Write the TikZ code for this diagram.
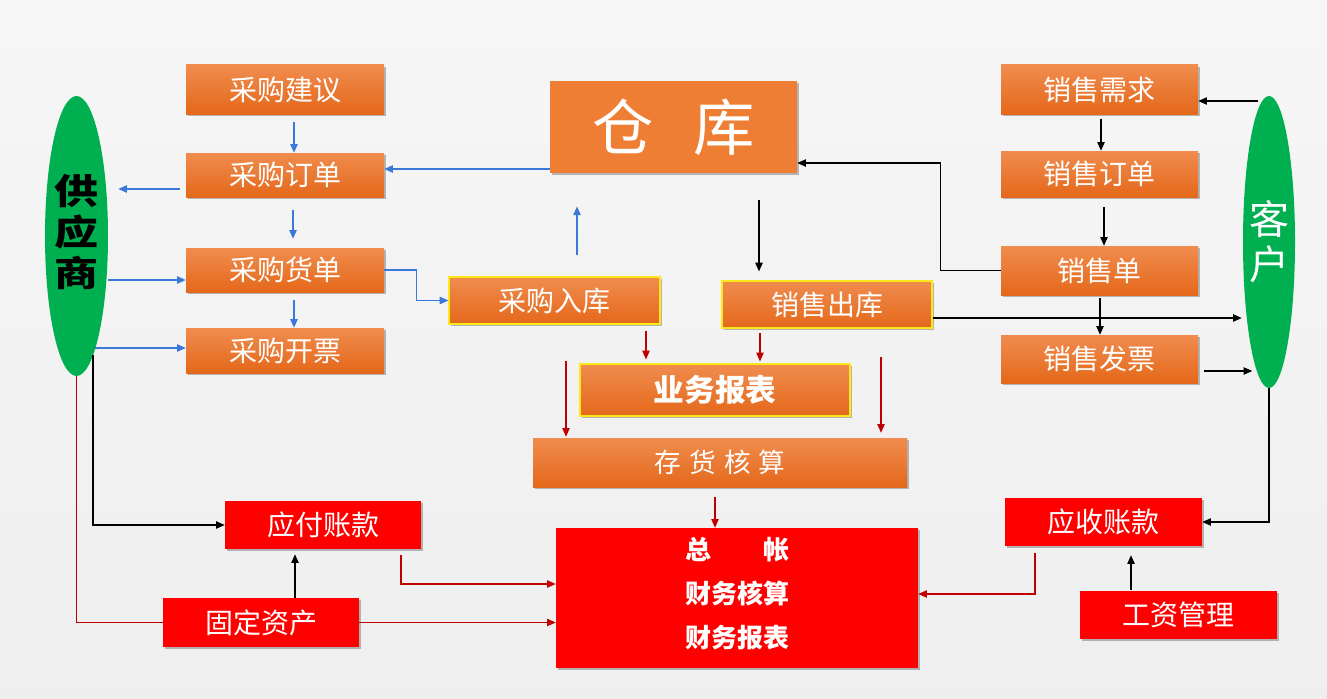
\documentclass[tikz,border=0pt]{standalone}
\usepackage{fontspec}
\setmainfont{Noto Sans CJK SC}
\usetikzlibrary{shapes.geometric,arrows.meta,calc,shadows}
\definecolor{bgc}{HTML}{EEEEEE}
\definecolor{orT}{HTML}{F08C4E}
\definecolor{orB}{HTML}{E4681A}
\definecolor{orF}{HTML}{ED7E34}
\definecolor{redbox}{HTML}{FF0000}
\definecolor{grn}{HTML}{00B050}
\definecolor{bl}{HTML}{3A78DA}
\definecolor{rl}{HTML}{C00000}
\definecolor{ylw}{HTML}{FFE81A}
\tikzset{
  base/.style={inner sep=0pt, text=white, font=\fontsize{21}{25}\selectfont,
    drop shadow={shadow xshift=1.2pt, shadow yshift=-1.8pt, opacity=0.45, fill=black!60}},
  obox/.style={base, top color=orT, bottom color=orB},
  ybox/.style={obox, draw=ylw, line width=0.9pt},
  rbox/.style={base, fill=redbox},
  oval/.style={ellipse, fill=grn, inner sep=0pt},
  tip/.style={-{Triangle[length=6.5pt,width=5.5pt]}},
  barr/.style={draw=bl, line width=1pt, tip},
  karr/.style={draw=black, line width=0.9pt, tip},
  rarr/.style={draw=rl, line width=0.8pt, tip},
  rline/.style={draw=rl, line width=0.8pt},
}
\begin{document}
\begin{tikzpicture}[x=0.75pt,y=-0.75pt]
\useasboundingbox (0,0) rectangle (1327,699);
\shade[top color=gray!7, bottom color=gray!13] (0,0) rectangle (1327,699);

% ellipses
\node[oval, minimum width=47.25pt, minimum height=210pt] (gys) at (76.5,236) {};
\node[font=\fontsize{33}{33}\selectfont\bfseries, text=black, inner sep=0pt] (gyst) at (76.5,236)
  {\scalebox{1}[0.8]{\begin{tabular}{@{}c@{}}供\\应\\商\end{tabular}}};
\node[oval, minimum width=39pt, minimum height=219pt] (kh) at (1269,242) {};
\node[font=\fontsize{30}{34}\selectfont, text=white, align=center, inner sep=0pt] (kht) at (1269,242) {客\\户};

% purchase column
\node[obox, minimum width=148.5pt, minimum height=36.75pt] (jy) at (285,89.5) {采购建议};
\node[obox, minimum width=148.5pt, minimum height=33pt] (dd) at (285,175) {采购订单};
\node[obox, minimum width=148.5pt, minimum height=33pt] (hd) at (285,270) {采购货单};
\node[obox, minimum width=148.5pt, minimum height=33.75pt] (kp) at (285,350.5) {采购开票};

% centre
\node[base, fill=orF, minimum width=185.25pt, minimum height=69pt, font=\fontsize{46}{50}\selectfont] (ck) at (673.5,127) {仓\hspace{30pt}库};
\node[ybox, minimum width=158.25pt, minimum height=35.25pt] (rk) at (554.5,300.5) {采购入库};
\node[ybox, minimum width=157.5pt, minimum height=35.25pt] (chk) at (827,304.5) {销售出库};
\node[ybox, minimum width=202.5pt, minimum height=39pt, font=\fontsize{23}{27}\selectfont\bfseries] (yw) at (715,390) {业务报表};
\node[obox, minimum width=280.5pt, minimum height=36.75pt, font=\fontsize{20}{24}\selectfont] (ch) at (720,462.5) {存\hspace{6pt}货\hspace{6pt}核\hspace{6pt}算};
\node[rbox, minimum width=271.5pt, minimum height=105pt] (zz) at (737,598) {};
\node[text=white, align=center, inner sep=0pt, font=\fontsize{19.5}{33}\selectfont\bfseries] (zzt) at (737,594) {总\hspace{39pt}帐\\财务核算\\财务报表};

% finance
\node[rbox, minimum width=147pt, minimum height=36pt] (yf) at (323,525) {应付账款};
\node[rbox, minimum width=147pt, minimum height=36.75pt] (gd) at (261,622.5) {固定资产};
\node[rbox, minimum width=147.75pt, minimum height=36pt] (ys) at (1103.5,522) {应收账款};
\node[rbox, minimum width=147.75pt, minimum height=36pt] (gz) at (1178.5,615) {工资管理};

% sales column
\node[obox, minimum width=147.75pt, minimum height=36.75pt] (xq) at (1099.5,89.5) {销售需求};
\node[obox, minimum width=147.75pt, minimum height=34.5pt] (xd) at (1099.5,174) {销售订单};
\node[obox, minimum width=147.75pt, minimum height=36.75pt] (xsd) at (1099.5,270.5) {销售单};
\node[obox, minimum width=147.75pt, minimum height=36pt] (fp) at (1099.5,359) {销售发票};

% blue connectors
\draw[barr] ($(jy.south)+(9,8)$) -- ($(dd.north)+(9,0)$);
\draw[barr] ($(dd.west)+(-6,14)$) -- ($(gys.east |- dd.west)+(10,14)$);
\draw[barr] ($(dd.south)+(8,13)$) -- ($(hd.north)+(8,-9)$);
\draw[barr] ($(gys.east |- hd.west)+(0,10)$) -- ($(hd.west)+(0,10)$);
\draw[barr] ($(hd.south)+(9,8)$) -- ($(kp.north)+(9,0)$);
\draw[barr] ($(kp.west)+(-91,-2.5)$) -- ($(kp.west)+(0,-2.5)$);
\draw[barr] ($(ck.west)+(0,42)$) -- ($(dd.east)+(0,-6)$);
\draw[barr] (hd.east) -| ($(rk.west)+(-32,0)$) -- (rk.west);
\draw[barr] ($(rk.north)+(22.5,-21)$) -- ($(rk.north)+(22.5,-70)$);

% black connectors
\draw[karr] ($(ck.south)+(85.5,27)$) -- ($(chk.north)+(-68,-9)$);
\draw[karr] (xsd.west) -- ++(-60,0) |- ($(ck.east)+(0,36)$);
\draw[karr] ($(xq.east)+(60,11.5)$) -- ($(xq.east)+(0,11.5)$);
\draw[karr] ($(xq.south)+(1.5,5)$) -- ($(xd.north)+(1.5,0)$);
\draw[karr] ($(xd.south)+(4.5,10)$) -- ($(xsd.north)+(4.5,0)$);
\draw[karr] ($(xsd.south)+(0.5,3)$) -- ($(fp.north)+(0.5,0)$);
\draw[karr] ($(chk.east)+(0,13.5)$) -- ($(kh.west)+(-1,76)$);
\draw[karr] ($(fp.east)+(6,12)$) -- ($(fp.east)+(54,12)$);
\draw[karr] (kh.south) |- (ys.east);
\draw[karr] ($(gys.south)+(16.5,-21)$) |- (yf.west);
\draw[karr] ($(gd.north)+(34,0)$) -- ($(yf.south)+(-28,5)$);
\draw[karr] ($(gz.north)+(-47.5,-1)$) -- ($(ys.south)+(27.5,9)$);

% red connectors
\draw[rline] (gys.south) |- (gd.west);
\draw[rarr] (gd.east) -- (gd.east -| zz.west);
\draw[rarr] ($(yf.south)+(78,6)$) |- ($(zz.west)+(0,-14)$);
\draw[rarr] ($(ys.south)+(-68.5,7)$) |- ($(zz.east)+(0,-4)$);
\draw[rarr] ($(ch.south)+(-5,10)$) -- ($(zz.north)+(-22,0)$);
\draw[rarr] ($(rk.south)+(91.5,6)$) -- ($(yw.north)+(-69,-4)$);
\draw[rarr] ($(chk.south)+(-67,4)$) -- ($(yw.north)+(45,-2)$);
\draw[rarr] ($(ch.north)+(-154,-77)$) -- ($(ch.north)+(-154,-1)$);
\draw[rarr] ($(ch.north)+(161,-81)$) -- ($(ch.north)+(161,-5)$);
\end{tikzpicture}
\end{document}
